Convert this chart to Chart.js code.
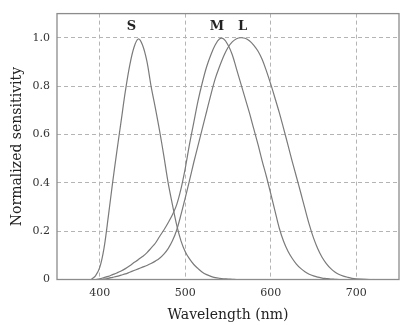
<!DOCTYPE html>
<html>
<head>
<meta charset="utf-8">
<script src="https://cdn.jsdelivr.net/npm/chart.js@4"></script>
<style>
html,body{margin:0;padding:0;background:#fff;}
#c{display:block;}
</style>
</head>
<body>
<canvas id="c" width="409" height="325"></canvas>
<script>
// Wavelengths (nm)
const wavelengths = [390,395,400,405,410,415,420,425,430,435,440,445,450,455,460,465,470,475,480,485,490,495,500,505,510,515,520,525,530,535,540,545,550,555,560,565,570,575,580,585,590,595,600,605,610,615,620,625,630,635,640,645,650,655,660,665,670,675,680,685,690,695,700,720,750];
// S cone
const sValues = [0.0,0.015,0.05,0.13,0.26,0.40,0.53,0.655,0.78,0.885,0.96,0.995,0.97,0.905,0.80,0.71,0.615,0.51,0.40,0.31,0.225,0.16,0.115,0.085,0.062,0.045,0.03,0.02,0.013,0.008,0.005,0.003,0.002,0.001,0,0,0,0,0,0,0,0,0,0,0,0,0,0,0,0,0,0,0,0,0,0,0,0,0,0,0,0,0,0,0];
// M cone
const mValues = [null,0,0.003,0.008,0.013,0.02,0.027,0.035,0.045,0.057,0.07,0.082,0.095,0.11,0.13,0.15,0.178,0.205,0.235,0.268,0.31,0.375,0.46,0.56,0.65,0.74,0.815,0.88,0.93,0.97,0.995,0.995,0.97,0.93,0.87,0.81,0.75,0.69,0.625,0.56,0.49,0.425,0.355,0.283,0.212,0.158,0.118,0.088,0.064,0.046,0.032,0.022,0.015,0.01,0.006,0.004,0.002,0.001,0,0,0,0,0,0,0];
// L cone
const lValues = [null,null,0,0.002,0.005,0.009,0.013,0.018,0.023,0.03,0.037,0.044,0.051,0.058,0.066,0.076,0.088,0.105,0.128,0.16,0.205,0.268,0.338,0.41,0.485,0.555,0.625,0.695,0.765,0.83,0.88,0.925,0.96,0.983,0.996,1.0,0.998,0.988,0.97,0.945,0.91,0.862,0.808,0.75,0.69,0.625,0.558,0.49,0.425,0.36,0.293,0.228,0.172,0.127,0.092,0.066,0.046,0.031,0.021,0.014,0.009,0.005,0.003,0,0];

const xTicks = [400,500,600,700];
const yTicks = [0,0.2,0.4,0.6,0.8,1.0];
const seriesLabels = ['S','M','L'];
const labelWavelengths = [437,537,567];
const labelLevel = 1.045;

const lineColor = '#7a7a7a';
const serif = "'DejaVu Serif', 'Liberation Serif', serif";

function toPts(vals){
  const out = [];
  wavelengths.forEach((w,i)=>{ if (vals[i] !== null) out.push({x:w,y:vals[i]}); });
  return out;
}

const boxPlugin = {
  id:'box',
  afterDraw(chart){
    const {ctx, chartArea:a, scales} = chart;
    ctx.save();
    ctx.strokeStyle = '#8c8c8c';
    ctx.lineWidth = 1.3;
    ctx.strokeRect(a.left, a.top, a.right-a.left, a.bottom-a.top);
    ctx.fillStyle = '#222';
    ctx.font = "bold 13px " + serif;
    ctx.textAlign = 'center';
    ctx.textBaseline = 'middle';
    seriesLabels.forEach((t,i)=>{
      ctx.fillText(t, scales.x.getPixelForValue(labelWavelengths[i]), scales.y.getPixelForValue(labelLevel));
    });
    ctx.restore();
  }
};

const ds = (vals)=>({
  data: toPts(vals),
  borderColor: lineColor,
  borderWidth: 1.2,
  pointRadius: 0,
  fill: false,
  tension: 0.35
});

new Chart(document.getElementById('c'), {
  type:'line',
  data:{ datasets:[ds(sValues), ds(mValues), ds(lValues)] },
  options:{
    responsive:false,
    animation:false,
    devicePixelRatio:1,
    layout:{ padding:{ top:12, right:10, left:0, bottom:0 } },
    plugins:{ legend:{display:false}, tooltip:{enabled:false} },
    scales:{
      x:{
        type:'linear', min:350, max:750,
        afterBuildTicks(s){ s.ticks = xTicks.map(v=>({value:v})); },
        afterFit(s){ s.height = 45.5; },
        border:{ display:false, dash:[4,3] },
        grid:{ color:'#b4b4b4', lineWidth:1, drawTicks:false },
        ticks:{ padding:7, color:'#333', font:{ family:serif, size:11 }, maxRotation:0,
                callback:(v)=>String(v) },
        title:{ display:true, text:'Wavelength (nm)', color:'#222',
                font:{ family:serif, size:14 }, padding:{top:0,bottom:1} }
      },
      y:{
        type:'linear', min:0, max:1.1,
        afterBuildTicks(s){ s.ticks = yTicks.map(v=>({value:v})); },
        afterFit(s){ s.width = 57; },
        border:{ display:false, dash:[4,3] },
        grid:{ color:'#b4b4b4', lineWidth:1, drawTicks:false },
        ticks:{ padding:7, color:'#333', font:{ family:serif, size:11 },
                callback:(v)=> v===0 ? '0' : v.toFixed(1) },
        title:{ display:true, text:'Normalized sensitivity', color:'#222',
                font:{ family:serif, size:14 }, padding:{top:8.5,bottom:0} }
      }
    }
  },
  plugins:[boxPlugin]
});
</script>
</body>
</html>
